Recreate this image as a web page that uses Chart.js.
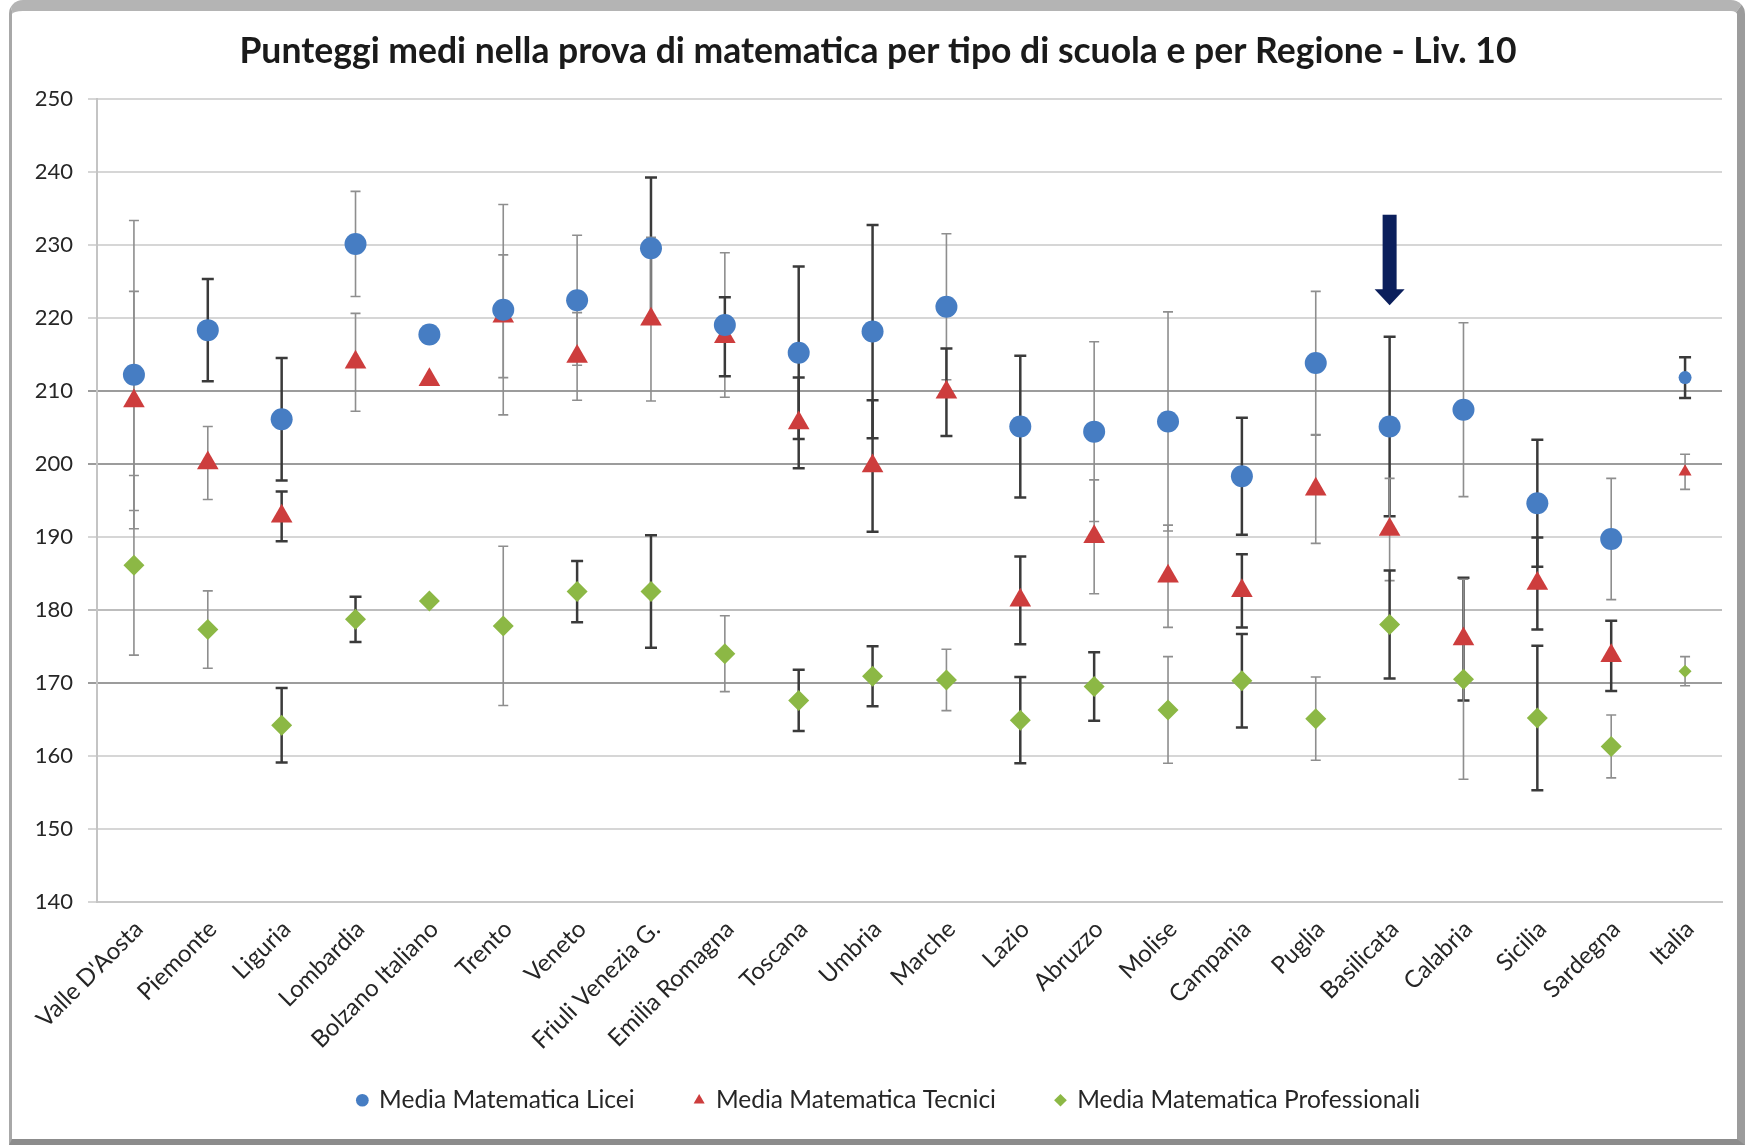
<!DOCTYPE html>
<html>
<head>
<meta charset="utf-8">
<script src="https://cdn.jsdelivr.net/npm/chart.js@4.4.1/dist/chart.umd.min.js"></script>
<style>
  body { margin: 0; background: #fff; }
  #frame {
    position: absolute; left: 9px; top: 0; width: 1736px; height: 1145px; box-sizing: border-box;
    border-top: 11px solid #b4b4b4; border-left: 3px solid #a8a8a8;
    border-right: 8px solid #9c9c9c; border-bottom: 6px solid #8c8c8c;
    border-radius: 14px 14px 0 0;
  }
  #chart { position: absolute; left: 0; top: 0; }
</style>
</head>
<body>
<div id="frame"></div>
<canvas id="chart" width="1745" height="1148"></canvas>
<script>
const regions = ["Valle D'Aosta", "Piemonte", "Liguria", "Lombardia", "Bolzano Italiano", "Trento", "Veneto",
    "Friuli Venezia G.", "Emilia Romagna", "Toscana", "Umbria", "Marche", "Lazio", "Abruzzo", "Molise",
    "Campania", "Puglia", "Basilicata", "Calabria", "Sicilia", "Sardegna", "Italia"];

// medie e semi-ampiezza dell'intervallo (null = nessuna barra)
const liceiMean = [212.2, 218.3, 206.1, 230.1, 217.7, 221.1, 222.4, 229.5, 219.0, 215.2, 218.1,
    221.5, 205.1, 204.4, 205.8, 198.3, 213.8, 205.1, 207.4, 194.6, 189.7, 211.8];
const liceiErr = [21.1, 7.0, 8.4, 7.2, null, 14.4, 8.9, 9.7, 9.9, 11.8, 14.6,
    10.0, 9.7, 12.3, 15.0, 8.0, 9.8, 12.3, 11.9, 8.7, 8.3, 2.8];

const tecniciMean = [208.6, 200.1, 192.8, 213.9, 211.5, 220.2, 214.7, 219.8, 217.4, 205.6, 199.7,
    209.8, 181.3, 190.0, 184.6, 182.6, 196.5, 191.0, 176.0, 183.6, 173.7, 198.9];
const tecniciErr = [15.0, 5.0, 3.4, 6.7, null, 8.4, 6.0, 11.2, 5.4, 6.2, 9.0,
    6.0, 6.0, 7.8, 7.0, 5.0, 7.4, 7.0, 8.4, 6.3, 4.8, 2.4];

const profMean = [186.1, 177.3, 164.2, 178.7, 181.2, 177.8, 182.5, 182.5, 174.0, 167.6, 170.9,
    170.4, 164.9, 169.5, 166.3, 170.3, 165.1, 178.0, 170.5, 165.2, 161.3, 171.6];
const profErr = [12.3, 5.3, 5.1, 3.1, null, 10.9, 4.2, 7.7, 5.2, 4.2, 4.1,
    4.2, 5.9, 4.7, 7.3, 6.4, 5.7, 7.4, 13.7, 9.9, 4.3, 2.0];

// freccia sopra la Basilicata (valori sull'asse y)
const arrowRegion = "Basilicata";
const arrowFrom = 234.1;
const arrowTo = 221.7;

// tonalita' delle barre: 1 = scura, 0 = chiara
const liceiShade   = [0,1,1,0,0,0,0,1,0,1,1,0,1,0,0,1,0,1,0,1,0,1];
const tecniciShade = [0,0,1,0,0,0,0,0,1,1,1,1,1,0,0,1,0,0,1,1,1,0];
const profShade    = [0,0,1,1,0,0,1,1,0,1,1,0,1,1,0,1,0,1,0,1,0,0];

const BLUE = "#467DC3";
const RED = "#CD3D3D";
const GREEN = "#8CB845";

const series = [
    { mean: liceiMean, err: liceiErr, shade: liceiShade },
    { mean: tecniciMean, err: tecniciErr, shade: tecniciShade },
    { mean: profMean, err: profErr, shade: profShade }
];

const errorBars = {
    id: "errorBars",
    beforeDatasetsDraw(chart) {
        const { ctx, scales: { x, y } } = chart;
        series.forEach(s => {
            s.mean.forEach((m, i) => {
                const e = s.err[i];
                if (e == null) return;
                const px = x.getPixelForValue(i);
                const top = y.getPixelForValue(m + e);
                const bot = y.getPixelForValue(m - e);
                const dark = s.shade[i] === 1;
                const cap = dark ? 6 : 5;
                ctx.save();
                ctx.strokeStyle = dark ? "#3a3a3a" : "#8e8e8e";
                ctx.lineWidth = dark ? 2.5 : 1.6;
                ctx.beginPath();
                ctx.moveTo(px, top); ctx.lineTo(px, bot);
                ctx.moveTo(px - cap, top); ctx.lineTo(px + cap, top);
                ctx.moveTo(px - cap, bot); ctx.lineTo(px + cap, bot);
                ctx.stroke();
                ctx.restore();
            });
        });
    }
};

const arrowMark = {
    id: "arrowMark",
    afterDatasetsDraw(chart) {
        const { ctx, scales: { x, y } } = chart;
        const px = x.getPixelForValue(regions.indexOf(arrowRegion));
        const yTop = y.getPixelForValue(arrowFrom);
        const yTip = y.getPixelForValue(arrowTo);
        const headLen = 16;
        ctx.save();
        ctx.fillStyle = "#0b1f5c";
        ctx.fillRect(px - 7, yTop, 14, yTip - yTop - headLen + 1);
        ctx.beginPath();
        ctx.moveTo(px - 15, yTip - headLen);
        ctx.lineTo(px + 15, yTip - headLen);
        ctx.lineTo(px, yTip);
        ctx.closePath();
        ctx.fill();
        ctx.restore();
    }
};

// sposta titolo e legenda come nell'originale
const shiftBoxes = {
    id: "shiftBoxes",
    afterLayout(chart) {
        const t = chart.titleBlock, l = chart.legend;
        t.left += 17; t.right += 17;
        l.left += 28; l.right += 28;
        l.top -= 29; l.bottom -= 29;
    }
};

const sizes = (big, small) => regions.map(r => r === "Italia" ? small : big);

function gridColor(c) {
    const v = c.tick.value;
    if (v === 210 || v === 200 || v === 170) return "#9c9c9c";
    if (v === 180) return "#bdbdbd";
    return "#d6d6d6";
}

new Chart(document.getElementById("chart"), {
    type: "line",
    data: {
        labels: regions,
        datasets: [{
            label: "Media Matematica Licei",
            data: liceiMean,
            showLine: false,
            pointStyle: "circle",
            pointRadius: sizes(11, 6.5),
            backgroundColor: BLUE,
            borderColor: BLUE,
            pointBorderWidth: 0
        },
        {
            label: "Media Matematica Tecnici",
            data: tecniciMean,
            showLine: false,
            pointStyle: "triangle",
            pointRadius: sizes(12.5, 7.5),
            backgroundColor: RED,
            borderColor: RED,
            pointBorderWidth: 0
        },
        {
            label: "Media Matematica Professionali",
            data: profMean,
            showLine: false,
            pointStyle: "rectRot",
            pointRadius: sizes(10.5, 6.5),
            backgroundColor: GREEN,
            borderColor: GREEN,
            pointBorderWidth: 0
        }]
    },
    options: {
        responsive: false,
        animation: false,
        layout: { padding: { left: 0, right: 23, top: 0, bottom: -3.5 } },
        plugins: {
            title: {
                display: true,
                text: "Punteggi medi nella prova di matematica per tipo di scuola e per Regione - Liv. 10",
                font: { family: "Lato", size: 35.5, weight: "bold" },
                color: "#1a1a1a",
                padding: { top: 30, bottom: 26 }
            },
            legend: {
                position: "bottom",
                labels: {
                    usePointStyle: true,
                    boxWidth: 9,
                    boxHeight: 9,
                    padding: 60,
                    font: { family: "Lato", size: 24.5 },
                    color: "#262626"
                }
            },
            tooltip: { enabled: false }
        },
        scales: {
            x: {
                offset: true,
                grid: { display: false, drawTicks: false },
                border: { display: true, color: "#c8c8c8", width: 2 },
                ticks: {
                    minRotation: 45,
                    maxRotation: 45,
                    autoSkip: false,
                    padding: 13,
                    labelOffset: 5,
                    font: { family: "Lato", size: 24 },
                    color: "#262626"
                },
                afterFit(scale) { scale.height = 155; }
            },
            y: {
                min: 140,
                max: 250,
                ticks: {
                    stepSize: 10,
                    padding: 15,
                    font: { family: "Lato", size: 22 },
                    color: "#262626"
                },
                grid: { color: gridColor, lineWidth: 2, tickLength: 9 },
                border: { color: "#c4c4c4", width: 2 },
                afterFit(scale) { scale.width = 97; }
            }
        }
    },
    plugins: [errorBars, arrowMark, shiftBoxes]
});
</script>
</body>
</html>
